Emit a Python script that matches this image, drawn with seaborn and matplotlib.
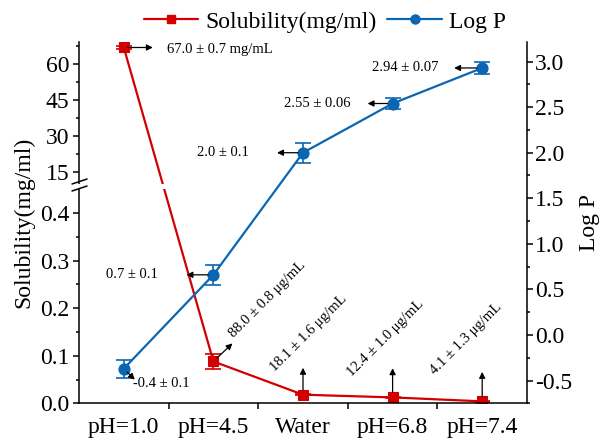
import numpy as np
import pandas as pd
import matplotlib
matplotlib.use("Agg")
import matplotlib.pyplot as plt
import seaborn as sns
from matplotlib.lines import Line2D
from matplotlib.patches import Rectangle

# ---------------- data ----------------
categories = ["pH=1.0", "pH=4.5", "Water", "pH=6.8", "pH=7.4"]
solubility = [67.0, 0.088, 0.0181, 0.0124, 0.0041]          # mg/ml
solubility_err = [0.7, 0.016, 0.0016, 0.0010, 0.0013]
logp = [-0.37, 0.66, 2.00, 2.54, 2.93]
logp_err = [0.10, 0.11, 0.11, 0.06, 0.07]
sol_labels = ["67.0 ± 0.7 mg/mL", "88.0 ± 0.8 μg/mL", "18.1 ± 1.6 μg/mL",
              "12.4 ± 1.0 μg/mL", "4.1 ± 1.3 μg/mL"]
logp_labels = ["-0.4 ± 0.1", "0.7 ± 0.1", "2.0 ± 0.1", "2.55 ± 0.06", "2.94 ± 0.07"]
left_major = [0.0, 0.1, 0.2, 0.3, 0.4, 15, 30, 45, 60]
left_major_labels = ["0.0", "0.1", "0.2", "0.3", "0.4", "15", "30", "45", "60"]
left_minor = [0.05, 0.15, 0.25, 0.35, 22.5, 37.5, 52.5, 67.5]
right_major = [-0.5, 0.0, 0.5, 1.0, 1.5, 2.0, 2.5, 3.0]

RED = "#D20000"
BLUE = "#0A66B2"

sns.set_theme(style="ticks")
plt.rcParams["font.family"] = ["Liberation Serif", "DejaVu Serif"]
plt.rcParams["mathtext.fontset"] = "stix"
plt.rcParams["text.color"] = "black"
plt.rcParams["axes.labelcolor"] = "black"
plt.rcParams["xtick.color"] = "black"
plt.rcParams["ytick.color"] = "black"

pos = np.arange(len(categories))
df = pd.DataFrame({"pos": pos, "cat": categories, "sol": solubility,
                   "sol_err": solubility_err, "logp": logp, "logp_err": logp_err})

# broken-axis scale for the left axis
LOW_TOP, HIGH_BOT, GAP, K = 0.45, 10.0, 0.012, 0.00502


def fwd(v):
    v = np.asarray(v, dtype=float)
    return np.where(v <= LOW_TOP, v,
                    np.where(v >= HIGH_BOT, LOW_TOP + GAP + (v - HIGH_BOT) * K,
                             LOW_TOP + (v - LOW_TOP) / (HIGH_BOT - LOW_TOP) * GAP))


def inv(t):
    t = np.asarray(t, dtype=float)
    return np.where(t <= LOW_TOP, t,
                    np.where(t >= LOW_TOP + GAP, HIGH_BOT + (t - LOW_TOP - GAP) / K,
                             LOW_TOP + (t - LOW_TOP) / GAP * (HIGH_BOT - LOW_TOP)))


fig = plt.figure(figsize=(6.01, 4.40), dpi=100)
ax = fig.add_axes([79 / 601, 36.7 / 440, 448 / 601, 361.3 / 440])
ax.set_facecolor("none")

sns.lineplot(data=df, x="pos", y="sol", ax=ax, sort=False, color=RED, lw=1.6,
             marker="s", markersize=7, markeredgecolor=RED, markeredgewidth=0.8,
             legend=False, zorder=2)
ax.errorbar(df["pos"], df["sol"], yerr=df["sol_err"], fmt="none", ecolor=RED,
            elinewidth=1.2, capsize=5.5, capthick=1.2, zorder=2)
ax.set_yscale("function", functions=(fwd, inv))
ax.set_ylim(0, 69.3)
ax.set_xlim(-0.5, 4.5)

ax2 = ax.twinx()
sns.lineplot(data=df, x="pos", y="logp", ax=ax2, sort=False, color=BLUE, lw=1.6,
             marker="o", markersize=8, markeredgecolor=BLUE, markeredgewidth=0.8,
             legend=False, zorder=2)
ax2.errorbar(df["pos"], df["logp"], yerr=df["logp_err"], fmt="none", ecolor=BLUE,
             elinewidth=1.2, capsize=5.5, capthick=1.2, zorder=2)
ax2.set_ylim(-0.75, 3.215)
ax2.set_xlim(-0.5, 4.5)

# ---------------- axes styling ----------------
FS = 17
for s in ["top", "right"]:
    ax.spines[s].set_visible(False)
for s in ["top", "left", "bottom"]:
    ax2.spines[s].set_visible(False)
for s in ["left", "bottom"]:
    ax.spines[s].set_linewidth(1.1)
    ax.spines[s].set_color("black")
ax2.spines["right"].set_linewidth(1.1)
ax2.spines["right"].set_color("black")

ax.set_xticks(pos, categories)
ax.set_xticks(pos[:-1] + 0.5, minor=True)
ax.tick_params(axis="x", which="major", length=0, pad=10, labelsize=FS, colors="black")
ax.tick_params(axis="x", which="minor", direction="out", length=4, width=1.1, color="black")

ax.set_yticks(left_major, left_major_labels)
ax.set_yticks(left_minor, minor=True)
ax.tick_params(axis="y", which="major", direction="out", length=4, width=1.1,
               pad=3, labelsize=FS, colors="black")
ax.tick_params(axis="y", which="minor", direction="out", length=2.5, width=1.1, color="black")

ax2.set_yticks(right_major, [f"{v:.1f}" for v in right_major])
ax2.set_yticks(np.arange(-0.75, 3.21, 0.25), minor=True)
ax2.tick_params(axis="y", which="major", direction="out", length=4, width=1.1,
                pad=1.5, labelsize=FS, colors="black")
ax2.tick_params(axis="y", which="minor", direction="out", length=2.5, width=1.1, color="black")
ax2.tick_params(axis="x", which="both", bottom=False, top=False,
                labelbottom=False, labeltop=False)

ax.set_xlabel("")
ax2.set_xlabel("")
ax.set_ylabel("Solubility(mg/ml)", fontsize=FS)
ax.yaxis.set_label_coords(-0.100, 0.5)
ax2.set_ylabel("Log P", fontsize=FS)
ax2.yaxis.set_label_coords(1.116, 0.5)

# axis break: white gap + slashes
ax.add_patch(Rectangle((-0.05, 0.5923), 1.0, 0.0158, transform=ax.transAxes,
                       facecolor="white", edgecolor="none", zorder=3, clip_on=False))
for yc in (0.6139, 0.5945):
    ax.plot([-0.0156, 0.0179], [yc - 0.0069, yc + 0.0069], transform=ax.transAxes,
            color="black", lw=1.1, clip_on=False, zorder=4)

# ---------------- annotations ----------------
AFS = 10.5
arrow_kw = dict(arrowstyle="<|-", color="black", lw=0.9, mutation_scale=9, shrinkA=0)

sol_arrow_tips = [(20.9, 0), (13.7, 13.0), (0, 19.4), (0, 21.0), (0, 21.2)]
sol_arrow_shrink = [2.9, 3.6, 3.5, 3.5, 3.5]
sol_text_off = [(31, -1.4), (14.5, 17.0), (-20.0, 16.6), (-29.5, 14.7), (-34.3, 19.0)]
for i in range(len(categories)):
    ax.annotate("", xy=(pos[i], solubility[i]), xytext=sol_arrow_tips[i],
                textcoords="offset points",
                arrowprops=dict(arrow_kw, shrinkB=sol_arrow_shrink[i]))
    if i == 0:
        ax.annotate(sol_labels[i], xy=(pos[i], solubility[i]), xytext=sol_text_off[i],
                    textcoords="offset points", ha="left", va="center", fontsize=AFS)
    else:
        ax.annotate(sol_labels[i], xy=(pos[i], solubility[i]), xytext=sol_text_off[i],
                    textcoords="offset points", ha="left", va="baseline",
                    rotation=45, rotation_mode="anchor", fontsize=AFS)

logp_arrow_tips = [(7.9, -7.9), (-19.4, 0), (-18.7, 0), (-18.0, 0), (-20.2, 0)]
logp_text_off = [(6.5, -10.8), (-40.3, 0), (-38.9, 0), (-30.2, 0), (-31.7, 0)]
for i in range(len(categories)):
    ax2.annotate("", xy=(pos[i], logp[i]), xytext=logp_arrow_tips[i],
                 textcoords="offset points",
                 arrowprops=dict(arrow_kw, shrinkB=3.6))
    ax2.annotate(logp_labels[i], xy=(pos[i], logp[i]), xytext=logp_text_off[i],
                 textcoords="offset points", ha="left" if i == 0 else "right",
                 va="center", fontsize=AFS)

# ---------------- legend ----------------
handles = [Line2D([], [], color=RED, lw=1.6, marker="s", markersize=6),
           Line2D([], [], color=BLUE, lw=1.6, marker="o", markersize=6.5)]
fig.legend(handles, ["Solubility(mg/ml)", "Log P"], loc="center",
           bbox_to_anchor=(325 / 601, 1 - 22 / 440), ncol=2, frameon=False,
           fontsize=FS, handlelength=2.3, handletextpad=0.3, columnspacing=0.45,
           numpoints=1, borderpad=0)

fig.savefig("out.png", dpi=100)
